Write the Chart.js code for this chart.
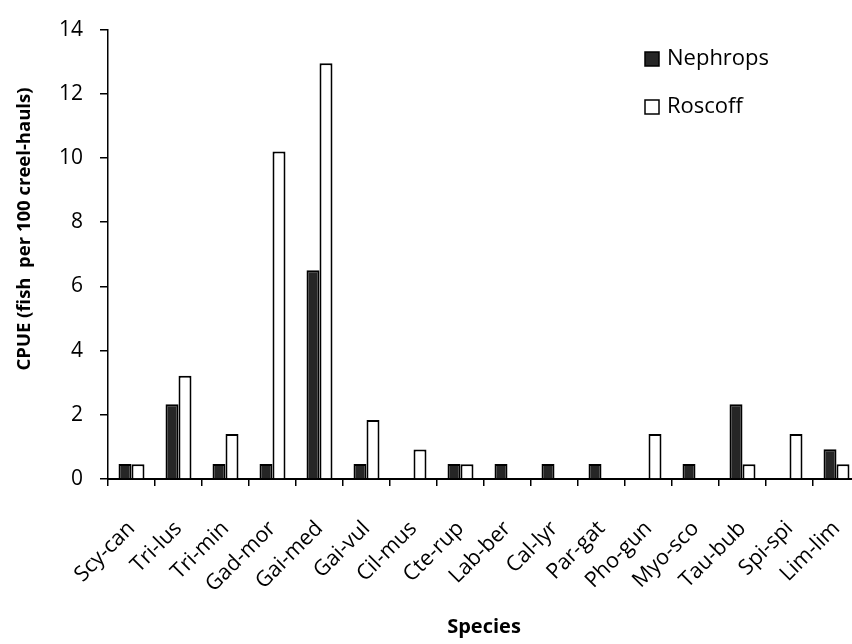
<!DOCTYPE html>
<html>
<head>
<meta charset="utf-8">
<script src="https://cdn.jsdelivr.net/npm/chart.js@4"></script>
<style>
  html, body { margin: 0; padding: 0; background: #ffffff; overflow: hidden; }
  #wrap { width: 852px; height: 644px; overflow: hidden; position: relative; }
  #c { position: absolute; left: 0; top: 0; }
</style>
</head>
<body>
<div id="wrap"><canvas id="c" width="862" height="644"></canvas></div>
<script>
const categories = ["Scy-can","Tri-lus","Tri-min","Gad-mor","Gai-med","Gai-vul","Cil-mus","Cte-rup","Lab-ber","Cal-lyr","Par-gat","Pho-gun","Myo-sco","Tau-bub","Spi-spi","Lim-lim"];
const nephrops = [0.47, 2.33, 0.47, 0.47, 6.5, 0.47, 0, 0.47, 0.47, 0.47, 0.47, 0, 0.47, 2.33, 0, 0.93];
const roscoff  = [0.46, 3.22, 1.4, 10.2, 12.95, 1.84, 0.92, 0.46, 0, 0, 0, 1.4, 0, 0.46, 1.4, 0.46];
const seriesNames = ["Nephrops", "Roscoff"];
const yTicks = [0, 2, 4, 6, 8, 10, 12, 14];
const yTitle = "CPUE (fish  per 100 creel-hauls)";
const xTitle = "Species";

const FONT = "'Open Sans', 'DejaVu Sans', sans-serif";

const legendPlugin = {
  id: 'customLegend',
  afterDraw(chart) {
    const ctx = chart.ctx;
    ctx.save();
    ctx.font = "22px " + FONT;
    ctx.textBaseline = 'middle';
    ctx.textAlign = 'left';
    chart.data.datasets.forEach((ds, i) => {
      const cy = 59 + i * 48;
      ctx.fillStyle = ds.backgroundColor;
      ctx.fillRect(645, cy - 7, 14, 14);
      ctx.lineWidth = 1.5;
      ctx.strokeStyle = '#000';
      ctx.strokeRect(645, cy - 7, 14, 14);
      ctx.fillStyle = '#000';
      ctx.fillText(ds.label, 667, cy);
    });
    // y-axis title, centred as in the reference
    ctx.translate(25, 229);
    ctx.rotate(-Math.PI / 2);
    ctx.font = "bold 18.5px " + FONT;
    ctx.textAlign = 'center';
    ctx.textBaseline = 'middle';
    ctx.fillStyle = '#000';
    ctx.fillText(yTitle, 0, 0);
    ctx.restore();
  }
};

new Chart(document.getElementById('c'), {
  type: 'bar',
  data: {
    labels: categories,
    datasets: [
      { label: seriesNames[0], data: nephrops, backgroundColor: '#262626', borderColor: '#000000', borderWidth: 2 },
      { label: seriesNames[1], data: roscoff, backgroundColor: '#ffffff', borderColor: '#000000', borderWidth: 2 }
    ]
  },
  options: {
    responsive: false,
    animation: false,
    devicePixelRatio: 1,
    layout: { padding: { top: 22, right: 2, left: 0, bottom: 0 } },
    datasets: { bar: { categoryPercentage: 0.553, barPercentage: 1.0 } },
    plugins: { legend: { display: false }, tooltip: { enabled: false } },
    scales: {
      x: {
        offset: true,
        grid: { display: true, offset: true, drawOnChartArea: false, drawTicks: true, tickLength: 7, color: '#000', lineWidth: 1.5 },
        border: { display: true, color: '#000', width: 2 },
        ticks: { color: '#000', font: { family: FONT, size: 21.5 }, minRotation: 45, maxRotation: 45, padding: 30, autoSkip: false },
        title: { display: true, text: xTitle, color: '#000', font: { family: FONT, size: 20, weight: 'bold' }, padding: { top: 0, bottom: 5 } },
        afterFit(scale) { scale.height = 165; scale.paddingRight = 0; scale.paddingLeft = 0; }
      },
      y: {
        min: 0, max: 14,
        afterBuildTicks(scale) { scale.ticks = yTicks.map(v => ({ value: v })); },
        grid: { display: true, drawOnChartArea: false, drawTicks: true, tickLength: 8, color: '#000', lineWidth: 1.5 },
        border: { display: true, color: '#000', width: 1.5 },
        ticks: { color: '#000', font: { family: FONT, size: 21 }, padding: 17 },
        title: { display: false },
        afterFit(scale) { scale.width = 108; }
      }
    }
  },
  plugins: [legendPlugin]
});
</script>
</body>
</html>
